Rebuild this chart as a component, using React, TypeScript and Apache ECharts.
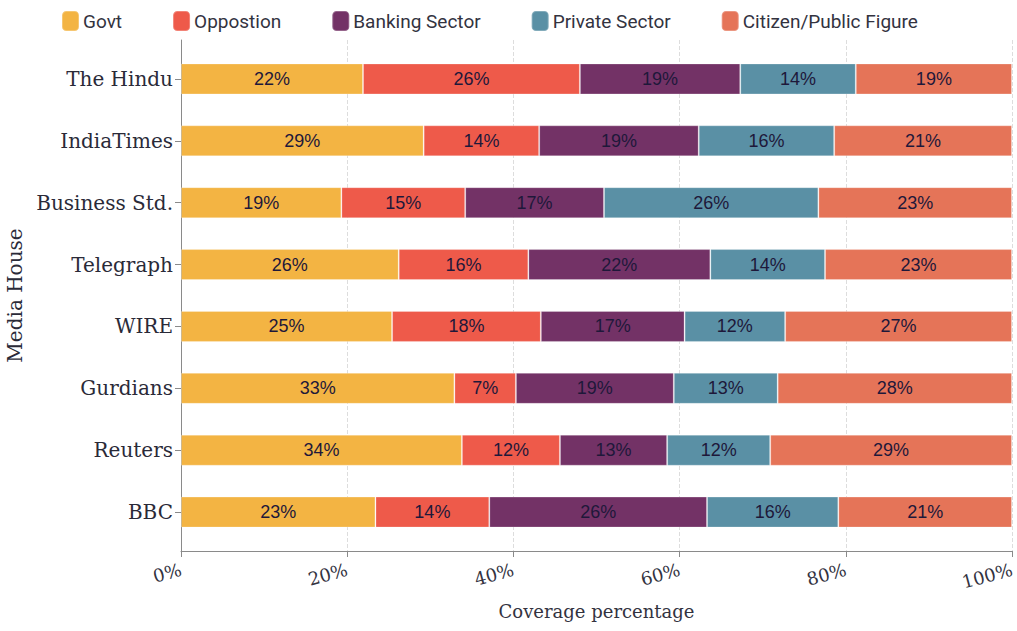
import React, { useEffect, useRef } from "react";
import * as echarts from "echarts";

const categories = ["The Hindu", "IndiaTimes", "Business Std.", "Telegraph", "WIRE", "Gurdians", "Reuters", "BBC"];
const seriesNames = ["Govt", "Oppostion", "Banking Sector", "Private Sector", "Citizen/Public Figure"];
const govt = [21.9, 29.2, 19.3, 26.2, 25.4, 32.9, 33.8, 23.4];
const opposition = [26.1, 13.9, 14.9, 15.6, 17.9, 7.4, 11.8, 13.7];
const banking = [19.3, 19.2, 16.7, 21.9, 17.3, 19.0, 12.9, 26.2];
const privateSector = [13.9, 16.3, 25.8, 13.8, 12.1, 12.5, 12.4, 15.8];
const citizen = [18.8, 21.4, 23.3, 22.5, 27.3, 28.2, 29.1, 20.9];
const xTicks = [0, 20, 40, 60, 80, 100];
const colors = ["#F3B443", "#EE5A4A", "#733266", "#5A90A5", "#E57458"];

const values = [govt, opposition, banking, privateSector, citizen];

export default function App() {
  const ref = useRef<HTMLDivElement>(null);
  useEffect(() => {
    if (!ref.current) return;
    const chart = echarts.init(ref.current, null, { renderer: "svg" });
    const serif = "DejaVu Serif";
    chart.setOption({
      animation: false,
      backgroundColor: "#ffffff",
      legend: {
        left: 56,
        top: 5,
        itemWidth: 17,
        itemHeight: 20,
        itemGap: 50,
        icon: "roundRect",
        textStyle: { fontFamily: "Roboto", fontSize: 19, color: "#33333f", padding: [0, 0, 0, -1] },
        data: seriesNames,
      },
      grid: [
        { left: 181, right: 5, top: 40, bottom: 80, containLabel: false, outerBoundsMode: "none" },
        { left: 181, right: 5, top: 48, bottom: 88, containLabel: false, outerBoundsMode: "none" },
      ],
      xAxis: [
        {
          gridIndex: 0,
          type: "value",
          min: xTicks[0],
          max: xTicks[xTicks.length - 1],
          interval: 20,
          name: "Coverage percentage",
          nameLocation: "middle",
          nameGap: 51,
          nameTextStyle: { fontFamily: serif, fontSize: 18, color: "#33333f" },
          axisLine: { show: true, lineStyle: { color: "#8a8a8a", width: 1 } },
          axisTick: { show: true, length: 6, lineStyle: { color: "#8a8a8a" } },
          axisLabel: {
            formatter: "{value}%",
            rotate: 15,
            margin: 18,
            fontFamily: serif,
            fontSize: 18,
            color: "#33333f",
          },
          splitLine: { show: true, lineStyle: { color: "#dddddd", type: "dashed" } },
        },
        { gridIndex: 1, type: "value", min: 0, max: 100, show: false },
      ],
      yAxis: [
        {
          gridIndex: 0,
          type: "value",
          axisLine: { show: true, lineStyle: { color: "#8a8a8a", width: 1 } },
          axisTick: { show: false },
          axisLabel: { show: false },
          splitLine: { show: false },
        },
        {
          gridIndex: 1,
          type: "category",
          inverse: true,
          data: categories,
          name: "Media House",
          nameLocation: "middle",
          nameGap: 154,
          nameTextStyle: { fontFamily: serif, fontSize: 20, color: "#2a2a38" },
          axisLine: { show: false },
          axisTick: { show: true, alignWithLabel: true, length: 6, lineStyle: { color: "#8a8a8a" } },
          axisLabel: { fontFamily: serif, fontSize: 20, color: "#2a2a38", margin: 8 },
          splitLine: { show: false },
        },
      ],
      series: seriesNames.map((name, i) => ({
        name,
        type: "bar",
        stack: "total",
        xAxisIndex: 1,
        yAxisIndex: 1,
        barWidth: 31,
        data: values[i],
        itemStyle: { color: colors[i], borderColor: "rgba(255,255,255,0.25)", borderWidth: 1 },
        label: {
          show: true,
          position: "inside",
          formatter: (p: any) => Math.round(p.value) + "%",
          fontFamily: "Liberation Sans",
          fontSize: 18,
          color: "#1e183a",
        },
      })),
    });
    return () => chart.dispose();
  }, []);
  return (
    <div
      ref={ref}
      style={{ position: "fixed", left: 0, top: 0, width: 1017, height: 631 }}
    />
  );
}
